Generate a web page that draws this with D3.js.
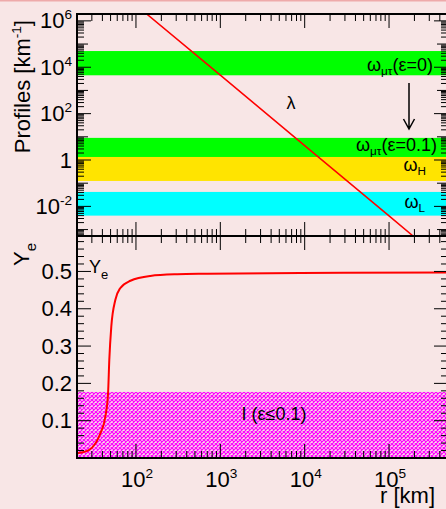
<!DOCTYPE html>
<html>
<head>
<meta charset="utf-8">
<script src="https://cdn.jsdelivr.net/npm/d3@7"></script>
<style>
  body { margin: 0; background: #f8e6e6; }
  svg { display: block; font-family: "Liberation Sans", Arial, sans-serif; }
</style>
</head>
<body>
<div class="chart"></div>
<script>
// --- data ---
// bands in the profiles panel [km^-1]
var bandNames = ["mutau0", "mutau01", "H", "L"];
var bandLow = [4.5e3, 1.35, 0.125, 0.004];
var bandHigh = [5e4, 9, 1.35, 0.042];

// lambda(r) profile
var lambdaR = [100, 1e3, 1e4, 1e5, 2e5];
var lambdaVal = [4.8e6, 4.6e3, 4.2, 3.9e-3, 4.7e-4];

// electron fraction Y_e(r)
var yeR = [20, 25, 30, 38, 43.3, 46.7, 48.3, 51, 57, 65, 86, 148, 307, 700, 9000, 5e5];
var yeVal = [0.013, 0.017, 0.027, 0.067, 0.11, 0.174, 0.263, 0.352, 0.424, 0.455, 0.475, 0.488, 0.4925, 0.494, 0.496, 0.497];

// resonance region I (eps <= 0.1)
var resLow = 0;
var resHigh = 0.177;

// tick labels
var xLabelExp = [2, 3, 4, 5];
var yTopLabelExp = [6, 4, 2, 0, -2];
var yBotLabels = [0.1, 0.2, 0.3, 0.4, 0.5];

// --- layout ---
var svgWidth = 446, svgHeight = 509;
var padL = 77, padR = 448, padT = 14, padM = 236, padB = 458;
var bandColor = { mutau0: "#00ff00", mutau01: "#00ff00", H: "#ffe400", L: "#00ffff" };

var svg = d3.select(".chart").append("svg")
  .attr("width", svgWidth)
  .attr("height", svgHeight);

svg.append("rect").attr("width", svgWidth).attr("height", svgHeight).attr("fill", "#f8e6e6");
svg.append("rect").attr("width", svgWidth).attr("height", 1.5).attr("fill", "#eeaaaa");

var defs = svg.append("defs");
var pat = defs.append("pattern").attr("id", "hatch")
  .attr("patternUnits", "userSpaceOnUse").attr("width", 4).attr("height", 4);
pat.append("rect").attr("width", 4).attr("height", 4).attr("fill", "#f8e6e6");
pat.append("path").attr("d", "M-1,-1L5,5M5,-1L-1,5")
  .attr("stroke", "#ff00ff").attr("stroke-width", 1.2);
defs.append("clipPath").attr("id", "clipTop").append("rect")
  .attr("x", padL).attr("y", padT).attr("width", padR - padL).attr("height", padM - padT);
defs.append("clipPath").attr("id", "clipBot").append("rect")
  .attr("x", padL).attr("y", padM).attr("width", padR - padL).attr("height", padB - padM);

var x = d3.scaleLog().domain([20, 5e5]).range([padL, padR]);
var yTop = d3.scaleLog().domain([Math.pow(10, -3.277), Math.pow(10, 6.296)]).range([padM, padT]);
var yBot = d3.scaleLinear().domain([0, 0.595]).range([padB, padM]);

// --- top panel ---
var topG = svg.append("g").attr("clip-path", "url(#clipTop)");
topG.selectAll("rect.band")
  .data(bandNames)
  .enter().append("rect")
  .attr("class", "band")
  .attr("x", padL)
  .attr("width", padR - padL)
  .attr("y", function(d, i) { return yTop(bandHigh[i]); })
  .attr("height", function(d, i) { return yTop(bandLow[i]) - yTop(bandHigh[i]); })
  .attr("fill", function(d) { return bandColor[d]; });

var lambdaLine = d3.line()
  .x(function(d, i) { return x(lambdaR[i]); })
  .y(function(d) { return yTop(d); });
topG.append("path")
  .datum(lambdaVal)
  .attr("d", lambdaLine)
  .attr("fill", "none")
  .attr("stroke", "#ff0000")
  .attr("stroke-width", 1.5);

// --- bottom panel ---
var botG = svg.append("g").attr("clip-path", "url(#clipBot)");
botG.append("rect")
  .attr("x", padL).attr("width", padR - padL)
  .attr("y", yBot(resHigh)).attr("height", yBot(resLow) - yBot(resHigh))
  .attr("fill", "url(#hatch)");

var yeLine = d3.line()
  .x(function(d, i) { return x(yeR[i]); })
  .y(function(d) { return yBot(d); })
  .curve(d3.curveMonotoneX);
botG.append("path")
  .datum(yeVal)
  .attr("d", yeLine)
  .attr("fill", "none")
  .attr("stroke", "#ff0000")
  .attr("stroke-width", 2);

// --- ticks ---
var tickG = svg.append("g").attr("stroke", "#000").attr("stroke-width", 1);
function tick(x1, y1, x2, y2) {
  tickG.append("line").attr("x1", x1).attr("y1", y1).attr("x2", x2).attr("y2", y2);
}
// log x ticks on top, middle (both ways) and bottom
for (var e = 1; e <= 5; e++) {
  for (var m = 1; m <= 9; m++) {
    var v = m * Math.pow(10, e);
    if (v < 20 || v > 5e5) continue;
    var px = x(v), len = m === 1 ? 14 : 7;
    tick(px, padT, px, padT + len);
    tick(px, padM, px, padM - len);
    tick(px, padM, px, padM + len);
    tick(px, padB, px, padB - len);
  }
}
// log y ticks top panel, left and right
for (var e = -4; e <= 6; e++) {
  for (var m = 1; m <= 9; m++) {
    var v = m * Math.pow(10, e);
    var py = yTop(v);
    if (py < padT || py > padM) continue;
    var len = m === 1 ? (e % 2 === 0 ? 14 : 11) : 7;
    tick(padL, py, padL + len, py);
    tick(padR, py, padR - len, py);
  }
}
// linear y ticks bottom panel
for (var k = 1; k <= 29; k++) {
  var v = k * 0.02;
  var py = yBot(v);
  var len = k % 5 === 0 ? 14 : 7;
  tick(padL, py, padL + len, py);
  tick(padR, py, padR - len, py);
}

// frames
svg.append("rect")
  .attr("x", padL).attr("y", padT).attr("width", padR - padL).attr("height", padB - padT)
  .attr("fill", "none").attr("stroke", "#000").attr("stroke-width", 2);
svg.append("line")
  .attr("x1", padL).attr("x2", padR).attr("y1", padM).attr("y2", padM)
  .attr("stroke", "#000").attr("stroke-width", 2);

// --- tick labels ---
var fs = 22;
function powLabel(g, exp) {
  if (exp === 0) { g.text("1"); return; }
  g.append("tspan").text("10");
  g.append("tspan").attr("dy", -9).attr("font-size", fs * 0.62).text(exp);
}
yTopLabelExp.forEach(function(exp) {
  var t = svg.append("text")
    .attr("x", padL - 5).attr("y", yTop(Math.pow(10, exp)) + 7.5)
    .attr("text-anchor", "end").attr("font-size", fs);
  powLabel(t, exp);
});
yBotLabels.forEach(function(v) {
  svg.append("text")
    .attr("x", padL - 5).attr("y", yBot(v) + 7.5)
    .attr("text-anchor", "end").attr("font-size", fs)
    .text(d3.format(".1f")(v));
});
xLabelExp.forEach(function(exp) {
  var t = svg.append("text")
    .attr("x", x(Math.pow(10, exp)) + 1).attr("y", 487)
    .attr("text-anchor", "middle").attr("font-size", fs);
  powLabel(t, exp);
});

// --- axis titles ---
var prof = svg.append("text")
  .attr("transform", "translate(30,20) rotate(-90)")
  .attr("text-anchor", "end").attr("font-size", fs);
prof.append("tspan").text("Profiles [km");
prof.append("tspan").attr("dy", -9).attr("font-size", fs * 0.62).text("-1");
prof.append("tspan").attr("dy", 9).text("]");

var yeT = svg.append("text")
  .attr("transform", "translate(29,243) rotate(-90)")
  .attr("text-anchor", "end").attr("font-size", fs);
yeT.append("tspan").text("Y");
yeT.append("tspan").attr("dy", 7).attr("font-size", fs * 0.68).text("e");

svg.append("text")
  .attr("x", 435).attr("y", 503)
  .attr("text-anchor", "end").attr("font-size", fs)
  .text("r [km]");

// --- annotations ---
var fa = 18;
function omegaLabel(xr, yb, sub, rest) {
  var t = svg.append("text").attr("x", xr).attr("y", yb)
    .attr("text-anchor", "end").attr("font-size", fa);
  t.append("tspan").text("ω");
  t.append("tspan").attr("dy", 4).attr("font-size", fa * 0.65).text(sub);
  if (rest) t.append("tspan").attr("dy", -4).text(rest);
}
omegaLabel(433, 71, "μτ", "(ε=0)");
omegaLabel(437, 151, "μτ", "(ε=0.1)");
omegaLabel(426, 171, "H");
omegaLabel(425, 208, "L");

svg.append("text").attr("x", 291).attr("y", 109)
  .attr("text-anchor", "middle").attr("font-size", fa).text("λ");

// arrow
svg.append("path")
  .attr("d", "M409,83L409,129M403.5,119L409,129L414.5,119")
  .attr("fill", "none").attr("stroke", "#000").attr("stroke-width", 1.5);

var yl = svg.append("text").attr("x", 89).attr("y", 273).attr("font-size", 18);
yl.append("tspan").text("Y");
yl.append("tspan").attr("dy", 6).attr("font-size", 13).text("e");

svg.append("text").attr("x", 274).attr("y", 420)
  .attr("text-anchor", "middle").attr("font-size", fa)
  .text("I (ε≤0.1)");
</script>
</body>
</html>
